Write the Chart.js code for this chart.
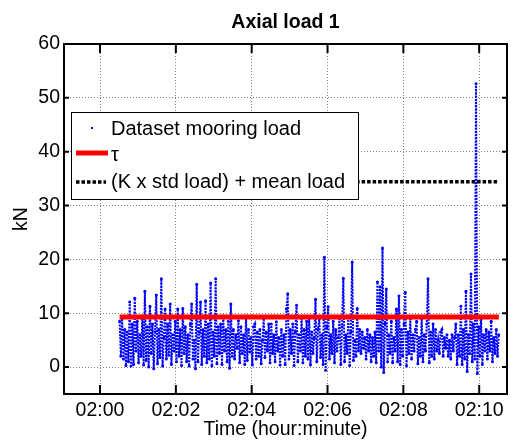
<!DOCTYPE html>
<html>
<head>
<meta charset="utf-8">
<script src="https://cdn.jsdelivr.net/npm/chart.js@4.4.1/dist/chart.umd.min.js"></script>
<style>
  body { margin: 0; background: #fff; }
  #wrap { position: relative; width: 511px; height: 443px; }
</style>
</head>
<body>
<div id="wrap"><canvas id="loadChart"></canvas></div>
<script>
// Time axis: seconds after 02:00:00
const xTickSeconds = [0, 120, 240, 360, 480, 600];
const xTickLabels = ['02:00', '02:02', '02:04', '02:06', '02:08', '02:10'];
const yTicks = [0, 10, 20, 30, 40, 50, 60];

// mooring load samples (kN), one every 2 s from 02:00:31
const sampleStart = 31;
const sampleStep = 2;
const loadValues = [
    8.5, 2.0, 9.0, 1.5, 7.0, 0.3, 6.5, 1.0, 12.1, 0.2,
    8.0, 0.5, 12.8, 3.0, 8.5, 0.8, 6.0, 2.0, 9.5, 0.4,
    14.1, 1.2, 7.5, 0.0, 11.3, 2.5, 8.0, -0.3, 6.5, 13.4,
    0.6, 7.0, 1.8, 16.4, 0.2, 5.5, 10.8, 1.5, 8.0, 2.2,
    11.7, 0.5, 6.0, 3.0, 8.5, 1.0, 10.8, 2.0, 7.0, 0.3,
    10.9, 2.5, 7.5, 1.0, 6.0, 0.2, 8.0, 11.7, 1.5, 5.0,
    -0.3, 15.4, 1.0, 6.5, 12.1, 0.5, 7.0, 2.0, 12.3, 0.8,
    8.0, 1.5, 15.6, 0.2, 6.5, 2.0, 16.4, 0.6, 7.5, 2.5,
    8.0, 0.5, 9.5, 3.0, 7.0, 1.0, 8.5, -0.2, 11.7, 2.0,
    7.0, 1.5, 6.0, 3.5, 8.6, 0.8, 7.5, 2.5, 6.0, 0.5,
    9.5, 1.2, 7.0, 2.8, 5.5, 0.4, 7.5, 8.0, 1.5, 6.5,
    2.0, 7.0, 0.6, 5.0, 9.0, 1.8, 6.5, 3.0, 8.0, 0.8,
    8.0, 2.5, 6.0, 1.0, 8.4, 3.0, 5.5, 0.4, 7.0, 2.0,
    6.0, 0.5, 10.8, 13.6, 1.5, 7.0, 2.5, 8.0, 0.3, 6.5,
    11.5, 1.0, 6.0, 3.0, 9.3, 0.8, 7.0, 2.0, 8.5, 1.5,
    9.0, 0.4, 6.5, 2.5, 5.5, 12.6, 1.0, 7.0, 9.0, 1.8,
    6.0, 0.5, 20.4, -0.6, 7.5, 11.2, 1.5, 6.0, 2.5, 8.5,
    0.8, 7.0, 3.0, 5.5, 9.0, 0.5, 7.5, 16.5, 1.0, 6.0,
    2.5, 9.5, 0.3, 6.5, 19.5, 1.2, 5.0, 2.0, 10.9, 3.0,
    7.0, 2.5, 6.5, 3.5, 5.5, 1.5, 7.0, 3.0, 6.0, 1.0,
    5.5, 2.0, 6.5, 0.8, 15.8, 3.0, 14.9, 0.0, 22.1, -1.0,
    8.0, 14.5, 1.0, 6.0, 2.5, 8.5, 0.8, 5.5, 3.0, 10.8,
    1.0, 13.2, 0.5, 7.0, 2.0, 8.0, 13.9, 0.2, 6.5, 2.5,
    9.0, 1.5, 6.0, 3.0, 7.0, 8.5, 0.6, 5.5, 2.0, 9.0,
    1.0, 6.0, 3.0, 8.0, 16.4, 0.8, 6.5, 2.0, 8.0, 1.5,
    7.0, 3.0, 5.0, 2.5, 6.5, 7.0, 2.0, 5.5, 3.5, 6.0,
    2.0, 5.0, 1.5, 6.0, 3.0, 5.5, 8.0, 0.5, 6.0, 2.0,
    11.3, 0.5, 7.0, 1.5, 14.1, -0.8, 6.0, 2.5, 17.3, 1.0,
    8.0, 1.5, 52.6, -1.2, 7.5, 2.0, 9.0, 0.5, 6.0, 3.0,
    7.0, 1.5, 6.5, 3.0, 8.5, 1.0, 5.5, 2.5, 7.0, 2.0,
    6.0
];

// threshold lines
const lineSpan = [31, 631];
const tauValue = 9.3;
const kStdValue = 34.4;

const legendLabels = ['Dataset mooring load', '\u03c4', '(K x std load) + mean load'];

const FONT = '"Liberation Sans", Arial, sans-serif';

const loadPoints = loadValues.map((v, i) => ({ x: sampleStart + i * sampleStep, y: v }));

// box, inward tick marks and legend, like matlab
const matlabAxes = {
    id: 'matlabAxes',
    afterDraw(chart) {
        const ctx = chart.ctx;
        const a = chart.chartArea;
        const xs = chart.scales.x, ys = chart.scales.y;
        ctx.save();
        ctx.strokeStyle = '#000';
        ctx.lineWidth = 2;
        ctx.setLineDash([]);
        ctx.strokeRect(a.left, a.top, a.right - a.left, a.bottom - a.top);
        ctx.beginPath();
        xTickSeconds.forEach(v => {
            const px = xs.getPixelForValue(v);
            ctx.moveTo(px, a.bottom); ctx.lineTo(px, a.bottom - 9);
            ctx.moveTo(px, a.top); ctx.lineTo(px, a.top + 9);
        });
        yTicks.forEach(v => {
            const py = ys.getPixelForValue(v);
            ctx.moveTo(a.left, py); ctx.lineTo(a.left + 5, py);
            ctx.moveTo(a.right, py); ctx.lineTo(a.right - 5, py);
        });
        ctx.stroke();

        // legend box
        const lx = 71, ly = 112, lw = 287, lh = 87;
        ctx.fillStyle = '#fff';
        ctx.fillRect(lx, ly, lw, lh);
        ctx.lineWidth = 1;
        ctx.strokeRect(lx + 0.5, ly + 0.5, lw, lh);

        ctx.fillStyle = '#0000ff';
        ctx.fillRect(91, 127, 2, 2);

        ctx.strokeStyle = '#ff0000';
        ctx.lineWidth = 5;
        ctx.beginPath(); ctx.moveTo(76, 153); ctx.lineTo(108, 153); ctx.stroke();

        ctx.strokeStyle = '#000';
        ctx.lineWidth = 3.5;
        ctx.setLineDash([3.5, 2]);
        ctx.beginPath(); ctx.moveTo(76, 182); ctx.lineTo(106, 182); ctx.stroke();
        ctx.setLineDash([]);

        ctx.fillStyle = '#000';
        ctx.font = '20px ' + FONT;
        ctx.textBaseline = 'alphabetic';
        ctx.textAlign = 'left';
        ctx.fillText(legendLabels[0], 111, 135);
        ctx.fillText(legendLabels[1], 111, 161);
        ctx.fillText(legendLabels[2], 111, 188);
        ctx.restore();
    }
};

new Chart(document.getElementById('loadChart'), {
    type: 'line',
    data: {
        datasets: [
            {
                label: legendLabels[1],
                data: lineSpan.map(x => ({ x: x, y: tauValue })),
                borderColor: '#ff0000',
                borderWidth: 5,
                pointRadius: 0,
                order: 0
            },
            {
                label: legendLabels[2],
                data: lineSpan.map(x => ({ x: x, y: kStdValue })),
                borderColor: '#000000',
                borderWidth: 3.5,
                borderDash: [3.5, 2],
                pointRadius: 0,
                order: 1
            },
            {
                label: legendLabels[0],
                data: loadPoints,
                borderColor: '#0000ff',
                borderWidth: 2,
                borderDash: [2, 1.2],
                pointRadius: 1.5,
                pointBorderWidth: 0,
                pointBackgroundColor: '#0000ff',
                tension: 0,
                order: 2
            }
        ]
    },
    options: {
        responsive: true,
        maintainAspectRatio: false,
        animation: false,
        layout: { padding: { left: 0, right: 1, top: 0, bottom: 0 } },
        plugins: {
            legend: { display: false },
            tooltip: { enabled: false },
            title: {
                display: true,
                text: 'Axial load 1',
                fullSize: false,
                color: '#000',
                font: { family: FONT, size: 19.5, weight: 'bold' },
                padding: { top: 11, bottom: 9.6 }
            }
        },
        scales: {
            x: {
                type: 'linear',
                min: -57,
                max: 644,
                afterFit: s => { s.height = 49; },
                afterBuildTicks: s => { s.ticks = xTickSeconds.map(v => ({ value: v })); },
                ticks: {
                    autoSkip: false,
                    maxRotation: 0,
                    color: '#000',
                    padding: 5,
                    font: { family: FONT, size: 19.5 }
                    ,callback: v => xTickLabels[xTickSeconds.indexOf(v)]
                },
                grid: { color: 'rgba(0,0,0,0.5)', lineWidth: 1, drawTicks: false },
                border: { display: false, dash: [1, 2] },
                title: {
                    display: true,
                    text: 'Time (hour:minute)',
                    color: '#000',
                    font: { family: FONT, size: 19.5 },
                    padding: { top: 0, bottom: 1.5 }
                }
            },
            y: {
                type: 'linear',
                min: -5,
                max: 60,
                afterFit: s => { s.width = 64; },
                afterBuildTicks: s => { s.ticks = yTicks.map(v => ({ value: v })); },
                ticks: {
                    color: '#000',
                    padding: 4,
                    font: { family: FONT, size: 19.5 }
                },
                grid: { color: 'rgba(0,0,0,0.5)', lineWidth: 1, drawTicks: false },
                border: { display: false, dash: [1, 2] },
                title: {
                    display: true,
                    text: 'kN',
                    color: '#000',
                    font: { family: FONT, size: 19.5 },
                    padding: { top: 10, bottom: 0 }
                }
            }
        }
    },
    plugins: [matlabAxes]
});
</script>
</body>
</html>
